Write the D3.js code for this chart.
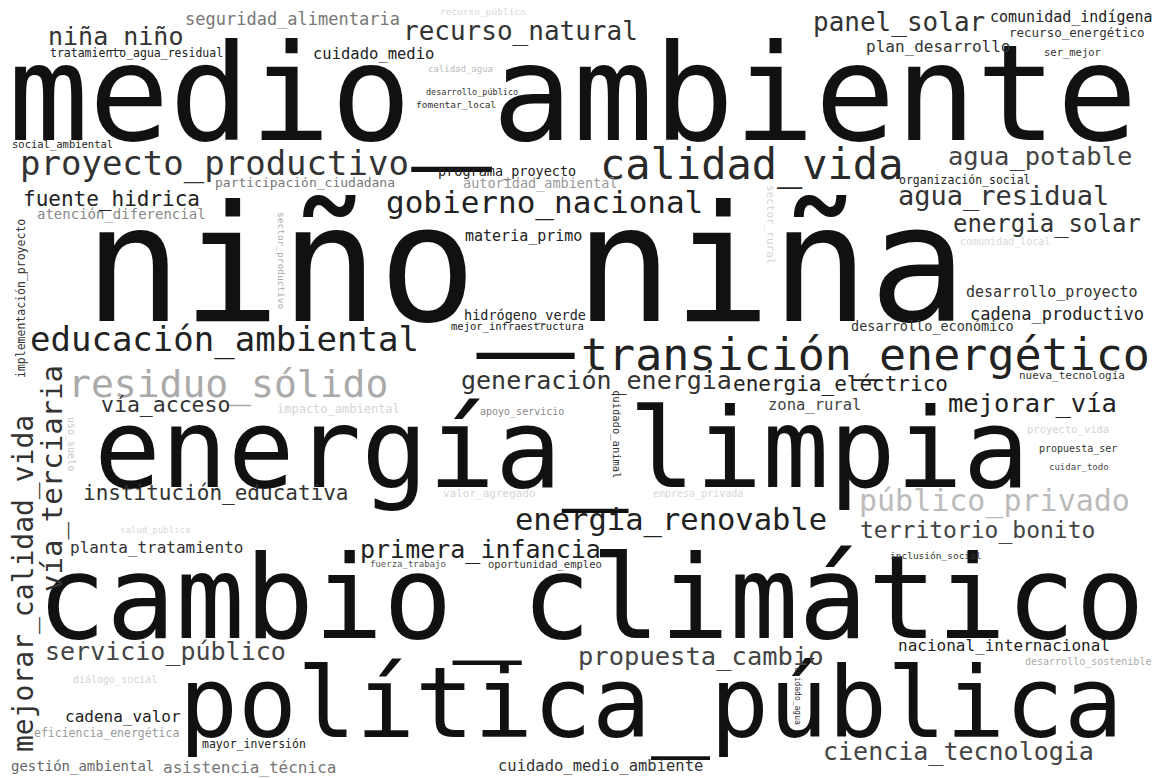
<!DOCTYPE html>
<html>
<head>
<meta charset="utf-8">
<script src="https://cdn.jsdelivr.net/npm/d3@7"></script>
<style>
  html, body { margin: 0; padding: 0; background: #fff; }
  svg { display: block; }
</style>
</head>
<body>
<svg id="chart" width="1155" height="778"></svg>
<script>
// ---- data: terms and their (estimated) frequencies ----
const words = [
  "medio_ambiente", "niño_niña", "energía_limpia", "cambio_climático", "política_pública",
  "transición_energético", "calidad_vida", "residuo_sólido", "proyecto_productivo", "educación_ambiental",
  "gobierno_nacional", "energia_renovable", "generación_energia", "energia_eléctrico", "primera_infancia",
  "mejorar_vía", "público_privado", "territorio_bonito", "agua_potable", "agua_residual",
  "energia_solar", "panel_solar", "recurso_natural", "niña_niño", "seguridad_alimentaria",
  "cuidado_medio", "tratamiento_agua_residual", "comunidad_indígena", "recurso_energético", "plan_desarrollo",
  "ser_mejor", "programa_proyecto", "autoridad_ambiental", "participación_ciudadana", "social_ambiental",
  "fuente_hidrica", "atención_diferencial", "organización_social", "desarrollo_proyecto", "cadena_productivo",
  "desarrollo_económico", "materia_primo", "hidrógeno_verde", "mejor_infraestructura", "implementación_proyecto",
  "mejorar_calidad_vida", "vía_terciaria", "vía_acceso", "institución_educativa", "planta_tratamiento",
  "servicio_público", "cadena_valor", "eficiencia_energética", "gestión_ambiental", "asistencia_técnica",
  "mayor_inversión", "cuidado_medio_ambiente", "propuesta_cambio", "nacional_internacional", "ciencia_tecnologia",
  "zona_rural", "nueva_tecnología", "propuesta_ser", "cuidar_todo", "apoyo_servicio",
  "desarrollo_público", "fomentar_local", "calidad_agua", "cuidado_animal", "oportunidad_empleo",
  "fuerza_trabajo", "inclusión_social", "desarrollo_sostenible", "sector_productivo", "cuidado_agua",
  "impacto_ambiental", "valor_agregado", "proyecto_vida", "uso_suelo", "diálogo_social",
  "comunidad_local", "sector_rural", "empresa_privada", "recurso_público", "salud_pública"
];
const counts = [
  268, 326, 222, 230, 196,
  90, 84, 76, 68, 68,
  62, 61, 50, 42, 50,
  51, 60, 46, 51, 54,
  48, 52, 52, 50, 34,
  31, 23, 30, 25, 32,
  21, 27, 27, 26, 21,
  42, 28, 23, 30, 34,
  27, 30, 27, 21, 23,
  56, 58, 43, 42, 32,
  50, 32, 23, 28, 32,
  23, 31, 51, 32, 50,
  31, 22, 20, 18, 20,
  17, 19, 18, 21, 21,
  18, 19, 20, 19, 16,
  24, 22, 21, 20, 20,
  20, 22, 20, 19, 18
];

// ---- layout: [x, baseline y, rotation] ----
const placement = [
  [8,140,0],[84,321,0],[94,487,0],[37,638,0],[179,737,0],
  [581,370,0],[600,179,0],[68,397,0],[20,175,0],[30,351,0],
  [386,213,0],[515,530,0],[461,389,0],[733,391,0],[360,558,0],
  [948,412,0],[859,511,0],[860,538,0],[948,165,0],[898,205,0],
  [953,232,0],[813,31,0],[403,40,0],[48,45,0],[185,25,0],
  [313,59,0],[50,57,0],[990,22,0],[1009,37,0],[866,52,0],
  [1044,56,0],[438,176,0],[463,188,0],[215,187,0],[12,148,0],
  [23,206,0],[37,219,0],[899,184,0],[966,297,0],[970,320,0],
  [851,331,0],[465,241,0],[464,320,0],[451,330,0],[25,378,-90],
  [33,752,-90],[62,592,-90],[101,412,0],[83,500,0],[70,553,0],
  [45,660,0],[65,722,0],[34,737,0],[11,771,0],[163,773,0],
  [202,748,0],[498,771,0],[578,665,0],[898,651,0],[823,760,0],
  [768,410,0],[1019,379,0],[1039,452,0],[1049,470,0],[480,415,0],
  [426,95,0],[416,108,0],[428,72,0],[613,390,90],[488,568,0],
  [370,567,0],[890,559,0],[1025,665,0],[278,212,90],[795,667,90],
  [277,413,0],[443,497,0],[1027,433,0],[68,417,90],[73,683,0],
  [960,245,0],[767,185,90],[653,497,0],[440,15,0],[120,533,0]
];
// grey tone of each term
const tone = [
  "#111","#111","#111","#111","#111",
  "#222","#2a2a2a","#aaa","#333","#222",
  "#222","#222","#333","#222","#222",
  "#222","#bbb","#444","#444","#333",
  "#333","#333","#333","#333","#777",
  "#222","#222","#222","#333","#333",
  "#333","#222","#999","#777","#222",
  "#222","#888","#222","#333","#222",
  "#333","#222","#222","#222","#333",
  "#333","#333","#333","#333","#333",
  "#444","#222","#999","#666","#777",
  "#222","#333","#444","#222","#444",
  "#444","#333","#333","#444","#888",
  "#333","#333","#bbb","#333","#333",
  "#555","#333","#aaa","#aaa","#333",
  "#d4d4d4","#d4d4d4","#d4d4d4","#c8c8c8","#d4d4d4",
  "#d8d8d8","#d4d4d4","#d8d8d8","#d8d8d8","#d8d8d8"
];

// ---- draw ----
const W = 1155, H = 778;
const svg = d3.select("#chart");
svg.append("rect").attr("width", W).attr("height", H).attr("fill", "#fff");

const size = d3.scaleLinear().domain([0, d3.max(counts)]).range([0, 163]);

const data = words.map((w, i) => ({
  text: w, count: counts[i],
  x: placement[i][0], y: placement[i][1], r: placement[i][2], c: tone[i]
}));

svg.append("g")
  .selectAll("text")
  .data(data)
  .join("text")
  .attr("transform", d => `translate(${d.x},${d.y}) rotate(${d.r})`)
  .attr("font-family", "'DejaVu Sans Mono', monospace")
  .attr("font-size", d => size(d.count))
  .attr("fill", d => d.c)
  .attr("text-anchor", "start")
  .text(d => d.text);
</script>
</body>
</html>
